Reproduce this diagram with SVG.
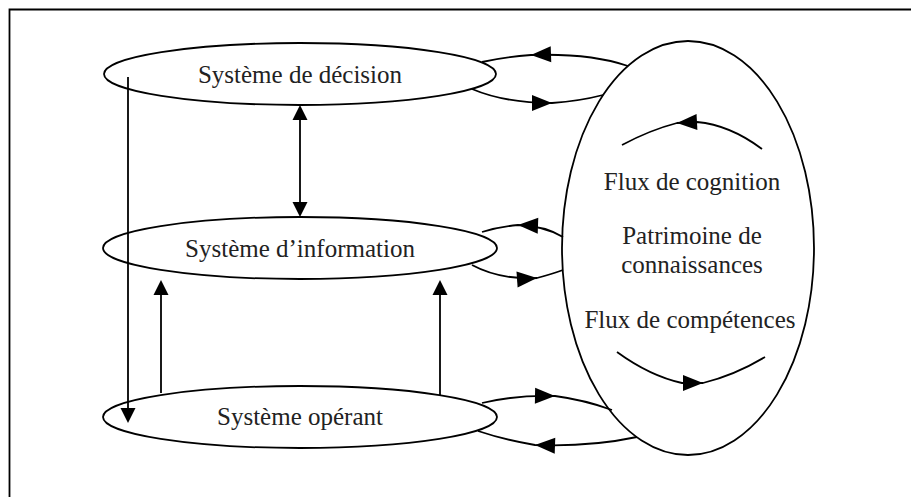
<svg xmlns="http://www.w3.org/2000/svg" xmlns:xlink="http://www.w3.org/1999/xlink" width="911" height="497" viewBox="0 0 911 497">
  <style>
    .shape { fill: none; stroke: #000; stroke-width: 1.8; }
    .node { fill: #fff; stroke: #000; stroke-width: 1.8; }
    .wire { fill: none; stroke: #000; stroke-width: 1.8; }
    .head { fill: #000; stroke: none; }
    .label { font-family: "Liberation Serif", "Times New Roman", serif; font-size: 25px; fill: #222; text-anchor: middle; }
  </style>
  <defs>
    <!-- arrowheads drawn with the tip at the origin, pointing along +x -->
    <path id="ah" class="head" d="M0,0 L-20,-8 L-20,8 Z"/>
    <path id="ahs" class="head" d="M0,0 L-15,-7.5 L-15,7.5 Z"/>
  </defs>

  <rect width="911" height="497" fill="#fff"/>
  <!-- frame: top and left edges -->
  <path class="shape" d="M9.5,497 V9.5 H911"/>

  <!-- knowledge store -->
  <g id="patrimoine">
    <ellipse class="node" cx="688" cy="248" rx="126" ry="207"/>
    <text class="label" x="692" y="190">Flux de cognition</text>
    <text class="label" x="692" y="244">Patrimoine de</text>
    <text class="label" x="692" y="273">connaissances</text>
    <text class="label" x="690" y="328">Flux de compétences</text>
  </g>

  <g id="decision">
    <ellipse class="node" cx="300" cy="74" rx="196" ry="31"/>
    <text class="label" x="300" y="83">Système de décision</text>
  </g>

  <g id="information">
    <ellipse class="node" cx="300" cy="248" rx="197" ry="31"/>
    <text class="label" x="300" y="257">Système d’information</text>
  </g>

  <g id="operant">
    <ellipse class="node" cx="300" cy="417" rx="197" ry="31"/>
    <text class="label" x="300" y="425">Système opérant</text>
  </g>

  <g id="connectors">
    <!-- decision -> operant, straight down the left -->
    <path class="wire" d="M128,77 V410"/>
    <use xlink:href="#ahs" transform="translate(128,423) rotate(90)"/>
    <!-- decision <-> information -->
    <path class="wire" d="M300,115 V207"/>
    <use xlink:href="#ahs" transform="translate(300,105) rotate(-90)"/>
    <use xlink:href="#ahs" transform="translate(300,217) rotate(90)"/>
    <!-- operant -> information -->
    <path class="wire" d="M161,393 V290"/>
    <use xlink:href="#ahs" transform="translate(161,280) rotate(-90)"/>
    <path class="wire" d="M440,395 V290"/>
    <use xlink:href="#ahs" transform="translate(440,280) rotate(-90)"/>

    <!-- decision loop with the store -->
    <path class="wire" d="M628,66 Q590,53 531,55 Q505,57 482,62"/>
    <use xlink:href="#ah" transform="translate(531,55) rotate(178)"/>
    <path class="wire" d="M472,89 Q505,103 552,103 Q580,101 603,95"/>
    <use xlink:href="#ah" transform="translate(552,103) rotate(0)"/>

    <!-- information loop with the store -->
    <path class="wire" d="M563,237 Q545,226 518,225 Q498,227 482,232"/>
    <use xlink:href="#ah" transform="translate(518,225) rotate(182)"/>
    <path class="wire" d="M472,265 Q500,280 537,278 Q552,274 563,270"/>
    <use xlink:href="#ah" transform="translate(537,278) rotate(-4)"/>

    <!-- operant loop with the store -->
    <path class="wire" d="M482,403 Q515,395 555,396 Q585,400 612,410"/>
    <use xlink:href="#ah" transform="translate(555,396) rotate(1)"/>
    <path class="wire" d="M637,437 Q590,447 535,445 Q505,440 478,431"/>
    <use xlink:href="#ah" transform="translate(535,445) rotate(182)"/>

    <!-- cycles inside the store -->
    <path class="wire" d="M762,149 Q730,125 697,122 L677,123 Q650,130 622,145"/>
    <use xlink:href="#ah" transform="translate(677,123) rotate(177)"/>
    <path class="wire" d="M617,352 Q650,376 682,383 L703,383 Q735,375 765,357"/>
    <use xlink:href="#ah" transform="translate(703,383) rotate(0)"/>
  </g>
</svg>
